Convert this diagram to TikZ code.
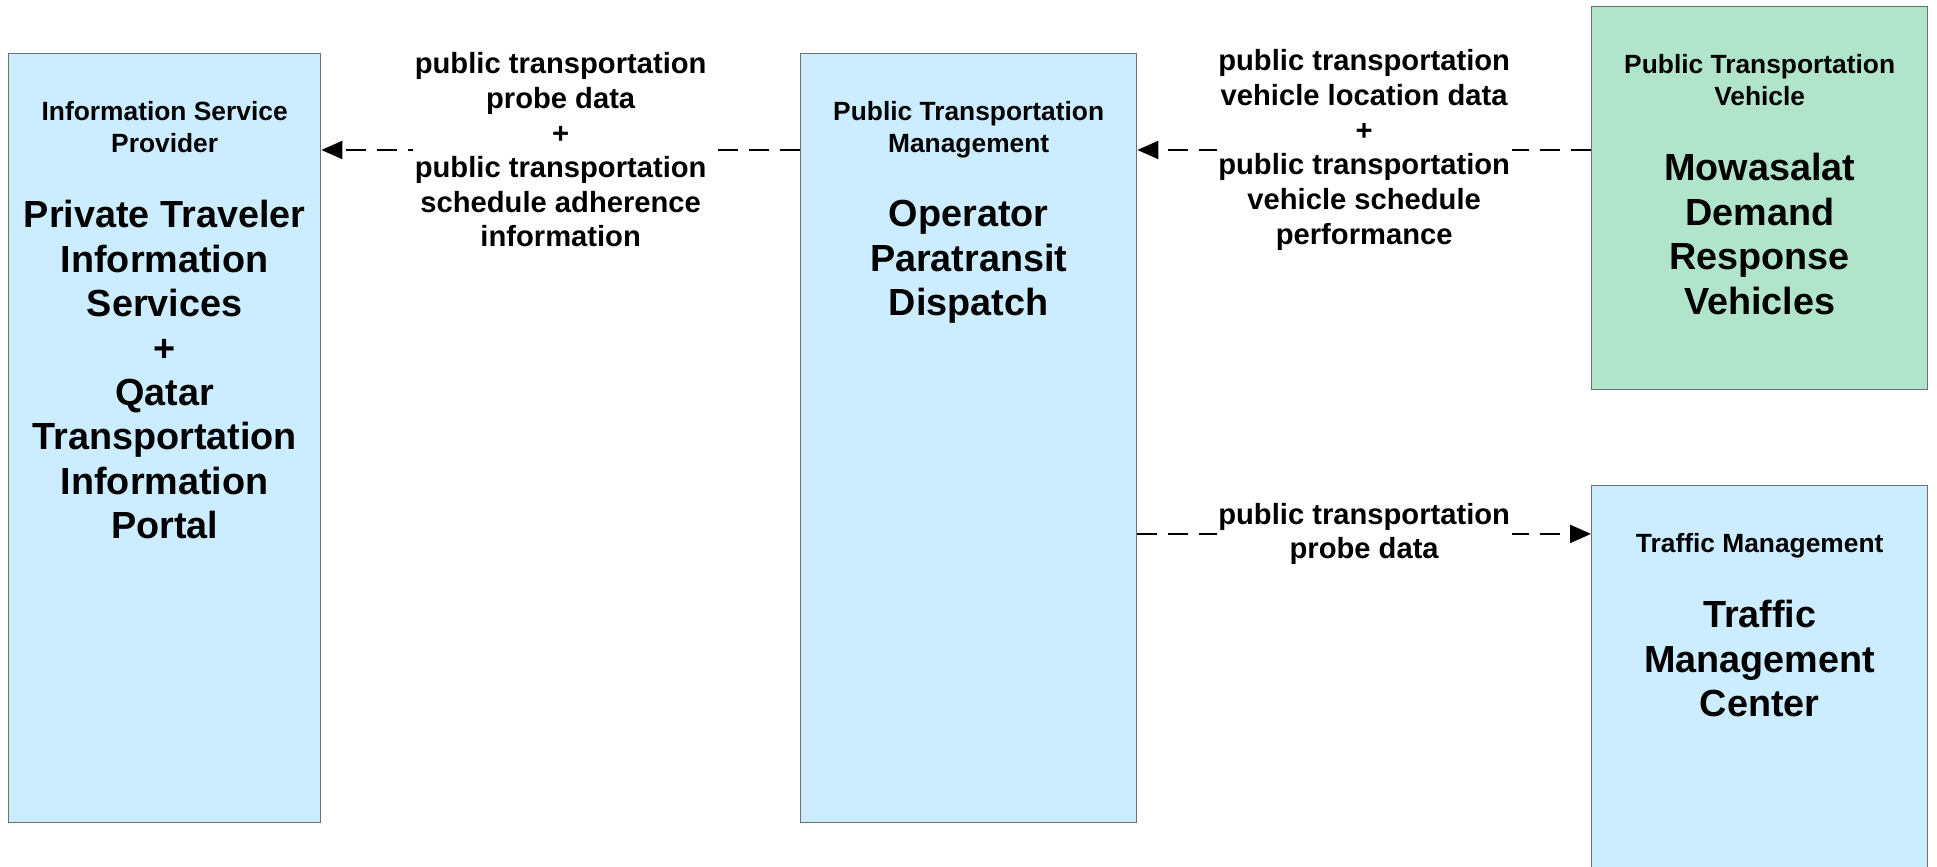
\documentclass[tikz,border=0pt]{standalone}
\usepackage{fontspec}
\setmainfont{Liberation Sans}
\usetikzlibrary{arrows.meta,positioning}
\definecolor{boxblue}{HTML}{CCECFF}
\definecolor{boxgreen}{HTML}{B0E5CC}
\definecolor{boxline}{HTML}{6E6E6E}

\begin{document}
\begin{tikzpicture}[x=0.02cm,y=-0.02cm,
        sysbox/.style={draw=boxline,line width=0.8pt,fill=boxblue,anchor=north west,
          minimum width=6.72cm,minimum height=15.38cm,inner sep=0pt},
        systitle/.style={font=\fontsize{15pt}{18.2pt}\selectfont\bfseries,align=center,inner sep=0pt},
        sysname/.style={font=\fontsize{21.5pt}{25.3pt}\selectfont\bfseries,align=center,inner sep=0pt},
        flow/.style={line width=1.3pt,dash pattern=on 0.4cm off 0.22cm,
          -{Triangle[length=0.42cm,width=0.36cm]}},
        flowlabel/.style={font=\fontsize{16.6pt}{19.7pt}\selectfont\bfseries,align=center,
          fill=white,inner sep=1pt}]

        \useasboundingbox (0,0) rectangle (1937,866);
        \clip (0,0) rectangle (1937,866);

        % the four systems
        \node[sysbox,minimum width=6.24cm] (isp) at (8,53) {};
        \node[sysbox] (ptm) at (800,53) {};
        \node[sysbox,fill=boxgreen,minimum height=7.66cm] (ptv) at (1591,6) {};
        \node[sysbox,minimum height=8.4cm] (tm) at (1591,485) {};

        \node[systitle,below=0.96cm of isp.north] (isp title) {Information Service\\Provider};
        \node[sysname,below=2.94cm of isp.north] (isp name) {Private Traveler\\Information\\Services\\+\\Qatar\\Transportation\\Information\\Portal};

        \node[systitle,below=0.96cm of ptm.north] (ptm title) {Public Transportation\\Management};
        \node[sysname,below=2.94cm of ptm.north] (ptm name) {Operator\\Paratransit\\Dispatch};

        \node[systitle,below=0.96cm of ptv.north] (ptv title) {Public Transportation\\Vehicle};
        \node[sysname,below=2.94cm of ptv.north] (ptv name) {Mowasalat\\Demand\\Response\\Vehicles};

        \node[systitle,below=0.96cm of tm.north] (tm title) {Traffic Management};
        \node[sysname,below=2.3cm of tm.north] (tm name) {Traffic\\Management\\Center};

        % flows
        \coordinate (ptm out) at ([yshift=-1.94cm]ptm.north west);
        \coordinate (ptm in) at ([yshift=-1.94cm]ptm.north east);
        \coordinate (ptm probe) at ([yshift=-9.62cm]ptm.north east);

        \draw[flow] (ptm out) -- node[flowlabel] {public transportation\\probe data\\+\\public transportation\\schedule adherence\\information} (ptm out -| isp.east);
        \draw[flow] (ptm in -| ptv.west) -- node[flowlabel] {public transportation\\vehicle location data\\+\\public transportation\\vehicle schedule\\performance} (ptm in);
        \draw[flow] (ptm probe) -- node[flowlabel] {public transportation\\probe data} (ptm probe -| tm.west);

\end{tikzpicture}
\end{document}
